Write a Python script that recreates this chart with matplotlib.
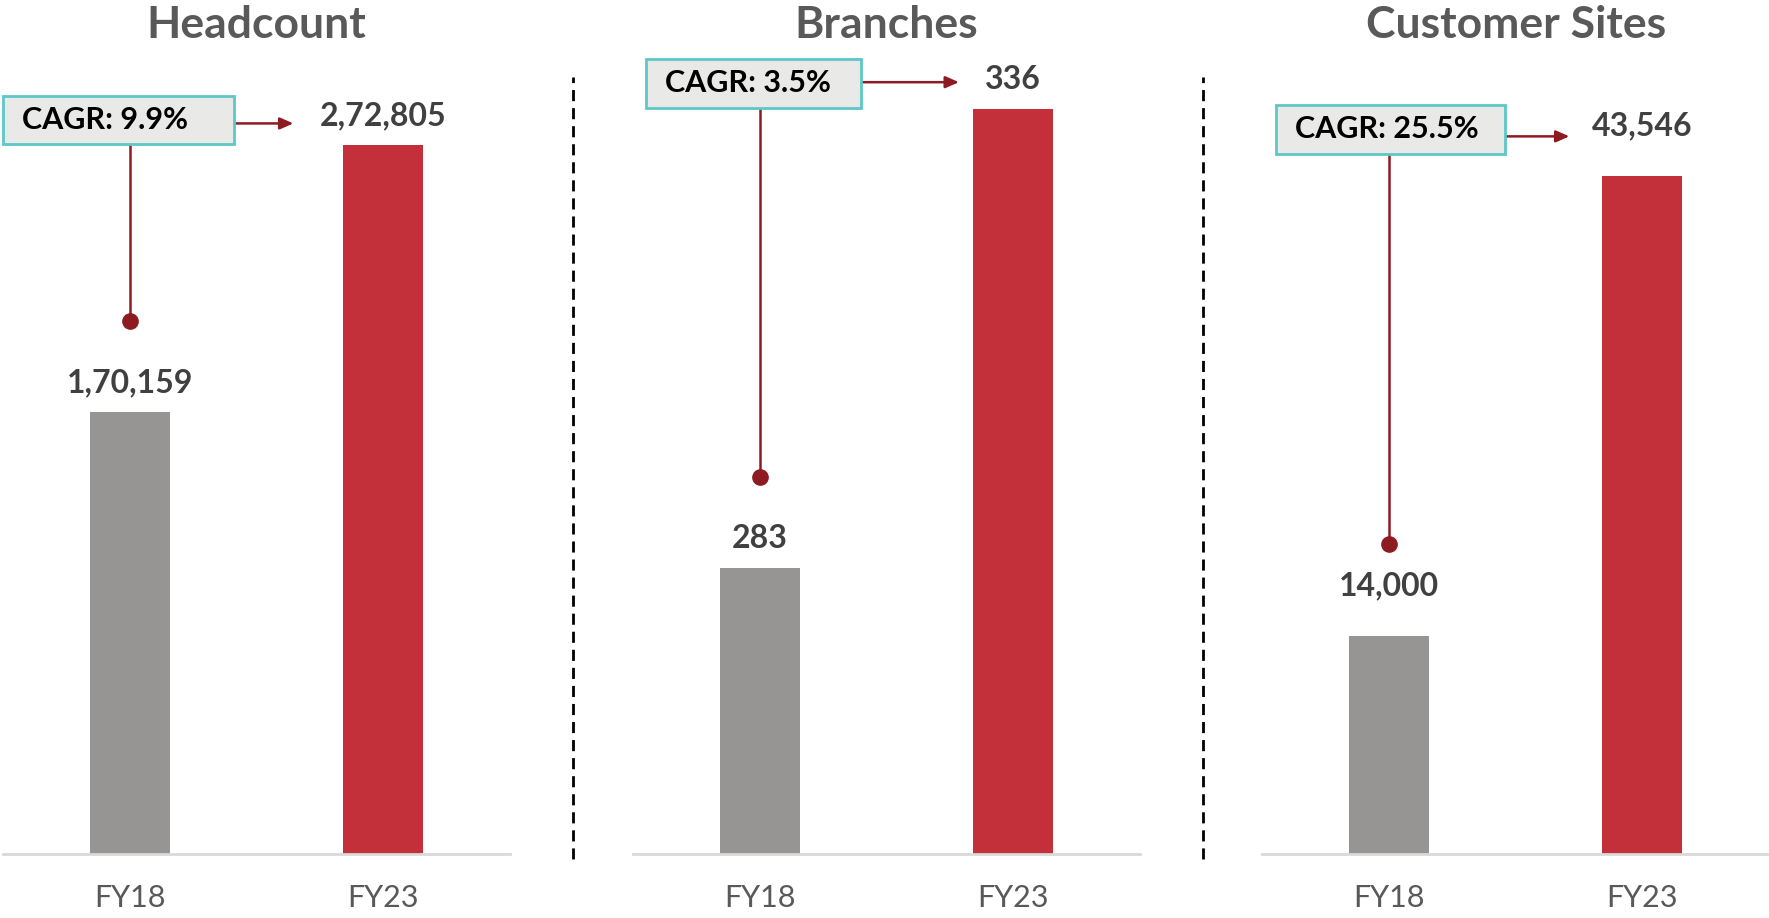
# kpi_growth_panels.py
# Three small bar panels (FY18 vs FY23) with CAGR call-outs.

import matplotlib.pyplot as plt
from matplotlib.lines import Line2D
from matplotlib.patches import Rectangle

# ---- data ----
titles = ["Headcount", "Branches", "Customer Sites"]
periods = ["FY18", "FY23"]
fy18_values = [170159, 283, 14000]
fy23_values = [272805, 336, 43546]
value_labels = [["1,70,159", "2,72,805"], ["283", "336"], ["14,000", "43,546"]]
cagr_labels = ["CAGR: 9.9%", "CAGR: 3.5%", "CAGR: 25.5%"]

# ---- layout / style ----
YLIMS = [(0, 311476), (250, 343.4), (0, 51950)]
AX_LEFTS = [0.0019, 0.3578, 0.7136]
AX_W, AX_B, AX_H = 0.2864, 0.070, 0.881
# box (x0, x1 in data units, y0, y1 in axes fraction), arrow (y, x end)
BOXES = [(-0.5, 0.409, 0.877, 0.937), (-0.447, 0.400, 0.922, 0.983), (-0.447, 0.458, 0.865, 0.926)]
ARROWS = [(0.903, 0.645), (0.954, 0.787), (0.887, 0.712)]
LABEL_OFFSETS = [21, 21, 36]       # points above bar tops
DOT_OFFSET = 0.113                  # fraction of axis range above FY18 bar

GREY = "#969594"
RED = "#C3303A"
DARK_RED = "#8E1B22"
TEXT = "#404040"
TITLE_C = "#595959"
FONT = "Lato"

plt.rcParams["font.family"] = [FONT, "DejaVu Sans"]

fig = plt.figure(figsize=(17.69, 9.18), dpi=100)

for i in range(3):
    ax = fig.add_axes([AX_LEFTS[i], AX_B, AX_W, AX_H])
    vals = [fy18_values[i], fy23_values[i]]
    ymin, ymax = YLIMS[i]
    ax.bar([0, 1], vals, width=0.316, color=[GREY, RED])
    ax.set_xlim(-0.5, 1.5)
    ax.set_ylim(ymin, ymax)

    for s in ["top", "right", "left"]:
        ax.spines[s].set_visible(False)
    ax.spines["bottom"].set_color("#D9D9D9")
    ax.spines["bottom"].set_linewidth(2)
    ax.set_yticks([])
    ax.set_xticks([0, 1])
    ax.set_xticklabels(periods, fontsize=22, color=TITLE_C)
    ax.tick_params(axis="x", length=0, pad=22)

    for x, v, lab in zip([0, 1], vals, value_labels[i]):
        ax.annotate(lab, (x, v), xytext=(0, LABEL_OFFSETS[i]), textcoords="offset points",
                    ha="center", va="center", fontsize=23, fontweight="bold", color=TEXT)

    # CAGR box
    bx0, bx1, by0, by1 = BOXES[i]
    trans = ax.get_xaxis_transform()
    ax.add_patch(Rectangle((bx0, by0), bx1 - bx0, by1 - by0, transform=trans,
                           facecolor="#E9E9E7", edgecolor="#5CC8C8", linewidth=2,
                           clip_on=False, zorder=5))
    ax.text(bx0 + 0.075, (by0 + by1) / 2, cagr_labels[i], transform=trans,
            ha="left", va="center", fontsize=22, fontweight="bold", color="black",
            zorder=6)

    # arrow to FY23 label
    ay, ax_end = ARROWS[i]
    ax.annotate("", xy=(ax_end, ay), xytext=(bx1, ay), xycoords=trans, textcoords=trans,
                arrowprops=dict(arrowstyle="-|>,head_length=0.8,head_width=0.35",
                                color=DARK_RED, lw=1.8, shrinkA=0, shrinkB=0),
                annotation_clip=False)

    # stem from box down to dot above FY18 bar
    dot_y = (fy18_values[i] - ymin) / (ymax - ymin) + DOT_OFFSET
    ax.plot([0, 0], [by0, dot_y], transform=trans, color=DARK_RED, lw=1.8,
            clip_on=False, zorder=4)
    ax.plot([0], [dot_y], "o", transform=trans, color=DARK_RED, markersize=11,
            clip_on=False, zorder=4)

    ax.set_title(titles[i], fontsize=32, fontweight="bold", color=TITLE_C,
                 pad=0, va="center")
    ax.title.set_position((0.5, (0.979 - AX_B) / AX_H))

# dashed separators
for xf in [508 / 1568, 1066 / 1568]:
    fig.add_artist(Line2D([xf, xf], [1 - 762 / 814, 1 - 68 / 814], transform=fig.transFigure,
                          color="black", lw=2, linestyle=(0, (4, 2.5))))

fig.savefig("out.png", dpi=100)
